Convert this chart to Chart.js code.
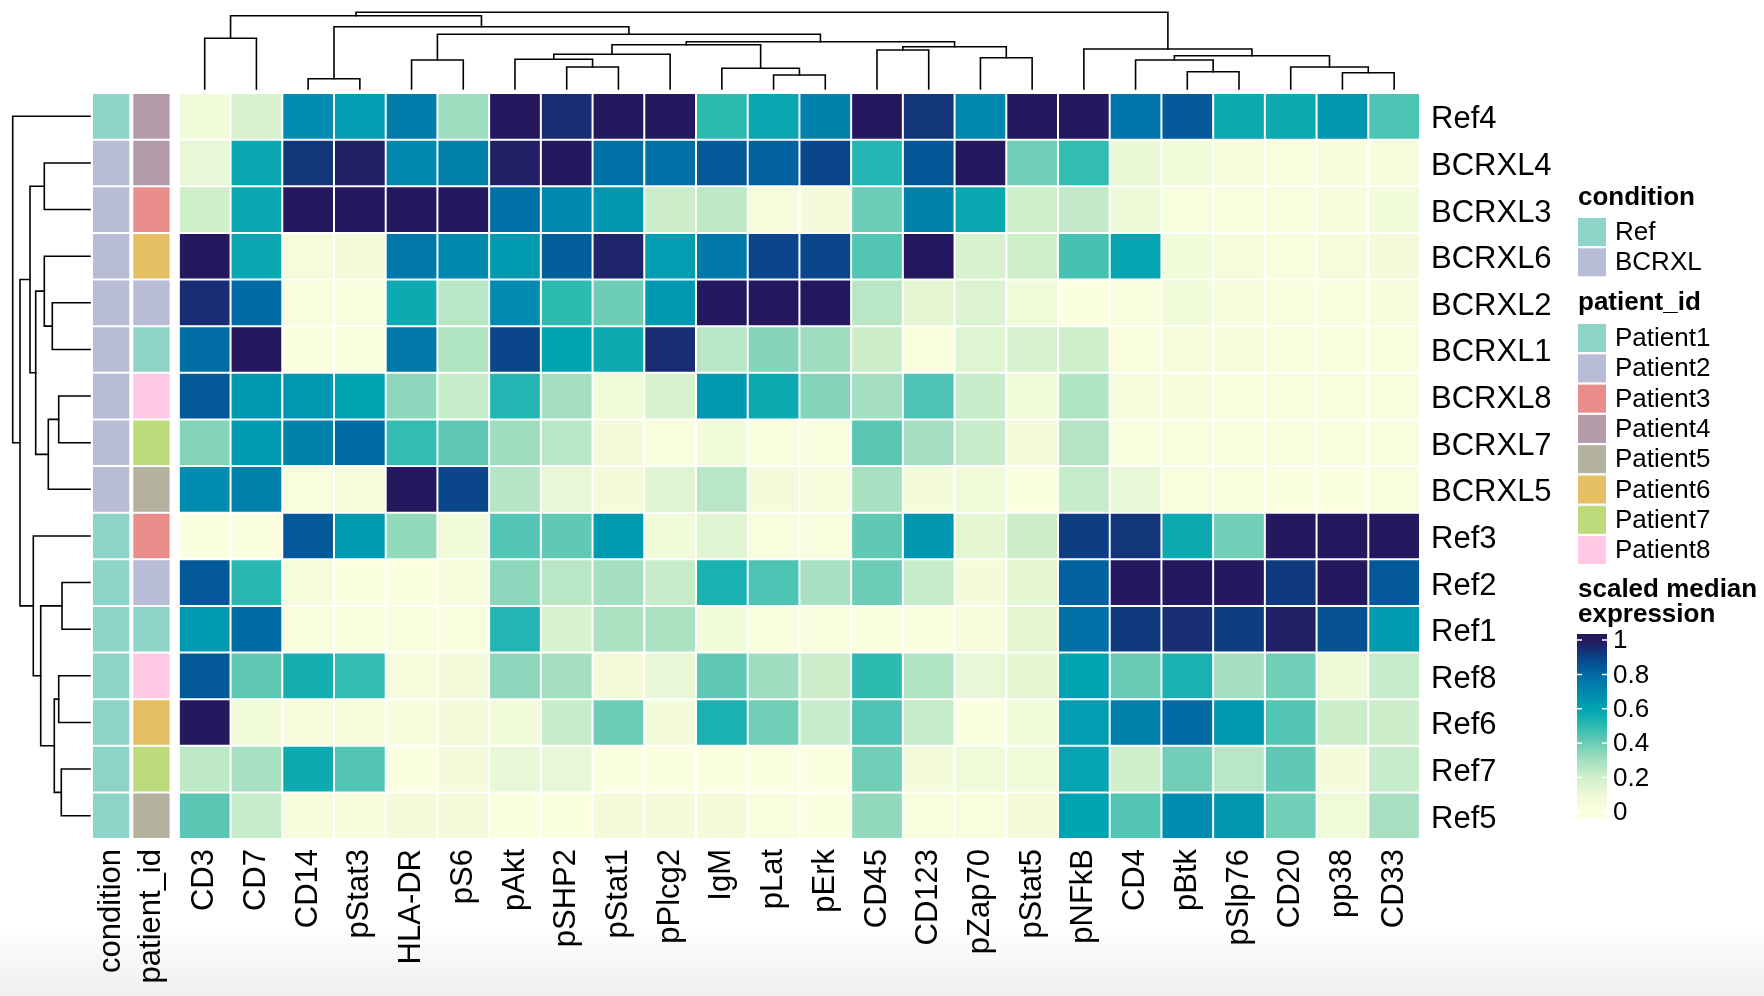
<!DOCTYPE html>
<html><head><meta charset="utf-8">
<script src="https://cdn.jsdelivr.net/npm/chart.js@4.4.1/dist/chart.umd.min.js"></script>
<style>
html,body{margin:0;padding:0;}
body{width:1764px;height:996px;overflow:hidden;background:linear-gradient(to bottom,#ffffff 0px,#ffffff 925px,#efefef 996px);}
#wrap{position:absolute;left:0;top:0;width:1764px;height:996px;}
</style></head><body><div id="wrap"><canvas id="c"></canvas></div>
<script>
// ---------------- data ----------------
const rowLabels = ['Ref4','BCRXL4','BCRXL3','BCRXL6','BCRXL2','BCRXL1','BCRXL8','BCRXL7','BCRXL5','Ref3','Ref2','Ref1','Ref8','Ref6','Ref7','Ref5'];
const colLabels = ['CD3','CD7','CD14','pStat3','HLA-DR','pS6','pAkt','pSHP2','pStat1','pPlcg2','IgM','pLat','pErk','CD45','CD123','pZap70','pStat5','pNFkB','CD4','pBtk','pSlp76','CD20','pp38','CD33'];
const annotLabels = ['condition','patient_id'];
const rowCondition = ['Ref','BCRXL','BCRXL','BCRXL','BCRXL','BCRXL','BCRXL','BCRXL','BCRXL','Ref','Ref','Ref','Ref','Ref','Ref','Ref'];
const rowPatient = ['Patient4','Patient4','Patient3','Patient6','Patient2','Patient1','Patient8','Patient7','Patient5','Patient3','Patient2','Patient1','Patient8','Patient6','Patient7','Patient5'];
const conditionLevels = ['Ref','BCRXL'];
const conditionColors = ['#8ed3c7','#b9bcd7'];
const patientLevels = ['Patient1','Patient2','Patient3','Patient4','Patient5','Patient6','Patient7','Patient8'];
const patientColors = ['#8ed3c7','#b9bcd7','#e98e8b','#b39ba9','#b4b19f','#e6be63','#bedb7c','#ffc9e3'];

// scaled median expression, one array per row (column order = colLabels)
const ref4   = [0.07,0.17,0.68,0.62,0.74,0.31,1.00,0.95,1.00,1.00,0.50,0.58,0.72,1.00,0.93,0.70,1.00,1.00,0.77,0.84,0.57,0.57,0.65,0.45];
const bcrxl4 = [0.12,0.58,0.93,0.98,0.70,0.73,0.98,1.00,0.78,0.78,0.84,0.82,0.89,0.52,0.85,1.00,0.39,0.49,0.11,0.08,0.05,0.02,0.04,0.04];
const bcrxl3 = [0.20,0.58,1.00,1.00,1.00,1.00,0.78,0.70,0.65,0.21,0.24,0.05,0.06,0.40,0.72,0.58,0.20,0.23,0.10,0.03,0.03,0.03,0.04,0.07];
const bcrxl6 = [1.00,0.58,0.05,0.06,0.75,0.70,0.63,0.83,0.97,0.62,0.75,0.89,0.89,0.44,1.00,0.17,0.20,0.46,0.59,0.08,0.05,0.03,0.05,0.06];
const bcrxl2 = [0.95,0.80,0.03,0.02,0.57,0.25,0.69,0.50,0.40,0.64,1.00,1.00,1.00,0.25,0.13,0.16,0.09,0.00,0.03,0.08,0.04,0.02,0.03,0.04];
const bcrxl1 = [0.79,1.00,0.00,0.03,0.75,0.27,0.89,0.60,0.57,0.95,0.25,0.36,0.31,0.21,0.00,0.15,0.18,0.20,0.02,0.05,0.04,0.02,0.03,0.03];
const bcrxl8 = [0.84,0.64,0.64,0.60,0.34,0.22,0.52,0.30,0.08,0.17,0.64,0.57,0.36,0.30,0.45,0.22,0.08,0.27,0.05,0.04,0.03,0.03,0.03,0.03];
const bcrxl7 = [0.36,0.63,0.72,0.80,0.49,0.42,0.31,0.25,0.06,0.02,0.07,0.03,0.03,0.43,0.30,0.22,0.06,0.26,0.02,0.02,0.02,0.02,0.02,0.02];
const bcrxl5 = [0.68,0.73,0.02,0.04,1.00,0.89,0.26,0.12,0.06,0.15,0.25,0.06,0.05,0.29,0.06,0.09,0.01,0.22,0.12,0.03,0.02,0.01,0.01,0.02];
const ref3   = [0.00,0.00,0.84,0.63,0.33,0.09,0.44,0.42,0.63,0.08,0.15,0.03,0.03,0.42,0.65,0.13,0.21,0.91,0.93,0.57,0.39,1.00,1.00,1.00];
const ref2   = [0.84,0.51,0.05,0.01,0.01,0.04,0.34,0.25,0.30,0.22,0.54,0.45,0.29,0.40,0.22,0.06,0.13,0.82,1.00,1.00,1.00,0.92,1.00,0.84];
const ref1   = [0.63,0.80,0.03,0.03,0.03,0.01,0.52,0.17,0.28,0.28,0.07,0.03,0.03,0.01,0.01,0.04,0.13,0.78,0.92,0.95,0.91,0.98,0.86,0.63];
const ref8   = [0.84,0.42,0.55,0.49,0.04,0.06,0.34,0.30,0.06,0.12,0.42,0.31,0.21,0.50,0.27,0.12,0.13,0.60,0.41,0.54,0.30,0.39,0.10,0.22];
const ref6   = [1.00,0.08,0.04,0.05,0.04,0.06,0.07,0.22,0.40,0.06,0.54,0.39,0.22,0.45,0.22,0.01,0.08,0.62,0.73,0.80,0.64,0.44,0.21,0.21];
const ref7   = [0.24,0.29,0.57,0.44,0.01,0.06,0.12,0.12,0.01,0.01,0.01,0.01,0.01,0.39,0.06,0.09,0.09,0.59,0.20,0.39,0.25,0.42,0.06,0.22];
const ref5   = [0.43,0.22,0.04,0.04,0.06,0.06,0.01,0.01,0.06,0.06,0.06,0.03,0.01,0.33,0.03,0.03,0.06,0.60,0.44,0.68,0.65,0.39,0.09,0.29];
const exprRows = [ref4,bcrxl4,bcrxl3,bcrxl6,bcrxl2,bcrxl1,bcrxl8,bcrxl7,bcrxl5,ref3,ref2,ref1,ref8,ref6,ref7,ref5];

// column dendrogram (hclust style: negative = leaf, positive = earlier merge)
const colMerge = [[-1,-2],[-3,-4],[-5,-6],[-8,-9],[-7,4],[5,-10],[-12,-13],[-11,7],[6,8],[-14,-15],[-16,-17],[10,11],[9,12],[3,13],[2,14],[1,15],[-20,-21],[-19,17],[-23,-24],[-22,19],[18,20],[-18,21],[16,22]];
const colHeight = [50.7,10.3,29.0,22.0,29.7,34.7,14.0,20.7,44.3,39.0,31.3,42.3,47.3,54.7,62.3,73.3,17.3,29.0,16.3,22.0,33.3,40.0,76.7];
// row dendrogram
const rowMerge = [[-2,-3],[-5,-6],[-4,2],[-7,-8],[4,-9],[3,5],[1,6],[-11,-12],[-13,-14],[-15,-16],[9,10],[8,11],[-10,12],[7,13],[-1,14]];
const rowHeight = [45.7,37.7,45.7,31.3,41.7,54.3,60.0,28.0,31.3,28.7,35.7,49.3,56.7,70.0,77.3];

// colour scale
const palStops  = [0,0.1,0.2,0.3,0.4,0.5,0.6,0.7,0.8,0.9,1];
const palColors = ['#fcfee0','#eef9d7','#cfefcb','#a3dfc0','#6dcdb6','#2cbab1','#00a3b1','#0088ae','#006aa5','#0b4286','#26185f'];
const legendTicks = [0,0.2,0.4,0.6,0.8,1];
const legendTickLabels = ['0','0.2','0.4','0.6','0.8','1'];

// ---------------- helpers / layout ----------------
const FONT = '"Liberation Sans", Arial, Helvetica, sans-serif';
function hex2rgb(h){return [1,3,5].map(i=>parseInt(h.substr(i,2),16));}
const palRgb = palColors.map(hex2rgb);
function colorFor(v){
  v=Math.max(0,Math.min(1,v));
  let i=0; while(i<palStops.length-2 && v>palStops[i+1]) i++;
  const t=(v-palStops[i])/(palStops[i+1]-palStops[i]);
  const a=palRgb[i], b=palRgb[i+1];
  return 'rgb('+a.map((c,k)=>Math.round(c+(b[k]-c)*t)).join(',')+')';
}
const AW = 0.78;            // annotation column width (x units)
const MK0 = 1.70;           // first marker column start
const X_MIN = 0.04, X_MAX = MK0 + colLabels.length;
const annotStart = [0, AW];
const tickPos = [annotStart[0]+AW/2, annotStart[1]+AW/2].concat(colLabels.map((_,j)=>MK0+j+0.5));
const tickText = annotLabels.concat(colLabels);

const datasets = [];
datasets.push({label:'condition', data: rowLabels.map(()=>[annotStart[0],annotStart[0]+AW]),
  backgroundColor: rowCondition.map(c=>conditionColors[conditionLevels.indexOf(c)]),
  borderWidth:{left:2,right:2,top:1,bottom:1}});
datasets.push({label:'patient_id', data: rowLabels.map(()=>[annotStart[1],annotStart[1]+AW]),
  backgroundColor: rowPatient.map(p=>patientColors[patientLevels.indexOf(p)]),
  borderWidth:{left:2,right:2,top:1,bottom:1}});
colLabels.forEach((m,j)=>{
  datasets.push({label:m, data: exprRows.map(()=>[MK0+j, MK0+j+1]),
    backgroundColor: exprRows.map(r=>colorFor(r[j])), borderWidth:1});
});

function drawTree(ctx, merge, heights, leafPos, hPix, vertical){
  const pos=[], hh=[];
  const get = r => r<0 ? {p:leafPos[-r-1], h:0} : {p:pos[r-1], h:hh[r-1]};
  merge.forEach((m,k)=>{
    const a=get(m[0]), b=get(m[1]), h=heights[k];
    pos.push((a.p+b.p)/2); hh.push(h);
    const H=hPix(h), Ha=hPix(a.h), Hb=hPix(b.h);
    ctx.beginPath();
    if(vertical){ctx.moveTo(a.p,Ha);ctx.lineTo(a.p,H);ctx.lineTo(b.p,H);ctx.lineTo(b.p,Hb);}
    else {ctx.moveTo(Ha,a.p);ctx.lineTo(H,a.p);ctx.lineTo(H,b.p);ctx.lineTo(Hb,b.p);}
    ctx.stroke();
  });
}

function drawLegend(ctx){
  const LX=1578, SQ=28, PITCH=30.3, TX=1615;
  ctx.save();
  ctx.fillStyle='#000'; ctx.textAlign='left'; ctx.textBaseline='alphabetic';
  ctx.font='bold 26px '+FONT;
  ctx.fillText('condition', LX, 205);
  conditionLevels.forEach((l,i)=>{
    const y=218+i*PITCH;
    ctx.fillStyle=conditionColors[i]; ctx.fillRect(LX,y,SQ,SQ);
    ctx.fillStyle='#000'; ctx.font='26px '+FONT; ctx.textBaseline='middle';
    ctx.fillText(l, TX, y+SQ/2+1);
  });
  ctx.textBaseline='alphabetic'; ctx.font='bold 26px '+FONT;
  ctx.fillText('patient_id', LX, 310);
  patientLevels.forEach((l,i)=>{
    const y=324+i*PITCH;
    ctx.fillStyle=patientColors[i]; ctx.fillRect(LX,y,SQ,SQ);
    ctx.fillStyle='#000'; ctx.font='26px '+FONT; ctx.textBaseline='middle';
    ctx.fillText(l, TX, y+SQ/2+1);
  });
  ctx.textBaseline='alphabetic'; ctx.font='bold 26px '+FONT;
  ctx.fillText('scaled median', LX, 597);
  ctx.fillText('expression', LX, 622);
  // colour bar
  const y0=812, y1=640, top=634, bot=818, bw=30;
  const g=ctx.createLinearGradient(0,y0,0,y1);
  palStops.forEach((s,i)=>g.addColorStop(s,palColors[i]));
  ctx.fillStyle=g; ctx.fillRect(LX-1,top,bw,bot-top);
  ctx.strokeStyle='#fff'; ctx.lineWidth=1.5;
  ctx.fillStyle='#000'; ctx.font='26px '+FONT; ctx.textBaseline='middle';
  legendTicks.forEach((v,i)=>{
    const y=y0+(y1-y0)*v;
    ctx.beginPath(); ctx.moveTo(LX-1,y); ctx.lineTo(LX+4,y); ctx.moveTo(LX+bw-6,y); ctx.lineTo(LX+bw-1,y); ctx.stroke();
    ctx.fillText(legendTickLabels[i], 1613, y+1);
  });
  ctx.restore();
}

const dendroPlugin = {
  id:'dendro',
  afterDraw(chart){
    const ctx=chart.ctx, xs=chart.scales.x, ys=chart.scales.y, ca=chart.chartArea;
    ctx.save();
    ctx.strokeStyle='#000'; ctx.lineWidth=1.6; ctx.lineCap='square';
    const colPix = colLabels.map((_,j)=>xs.getPixelForValue(MK0+j+0.5));
    const cB=ca.top-4, cT=12.3, cMax=Math.max(...colHeight);
    drawTree(ctx, colMerge, colHeight, colPix, h=>cB-h/cMax*(cB-cT), true);
    const rowPix = rowLabels.map((_,i)=>ys.getPixelForValue(i));
    const rR=ca.left-3, rL=12.7, rMax=Math.max(...rowHeight);
    drawTree(ctx, rowMerge, rowHeight, rowPix, h=>rR-h/rMax*(rR-rL), false);
    ctx.restore();
    drawLegend(ctx);
  }
};

Chart.defaults.font.family = FONT;
new Chart(document.getElementById('c'), {
  type:'bar',
  data:{labels:rowLabels, datasets},
  plugins:[dendroPlugin],
  options:{
    indexAxis:'y', responsive:true, maintainAspectRatio:false, animation:false,
    layout:{padding:{left:93, top:93, right:0, bottom:0}},
    plugins:{legend:{display:false}, tooltip:{enabled:false}},
    datasets:{bar:{grouped:false, barPercentage:1, categoryPercentage:1, borderSkipped:false, borderColor:'#ffffff', inflateAmount:0}},
    scales:{
      x:{type:'linear', position:'bottom', min:X_MIN, max:X_MAX,
        grid:{display:false, drawTicks:false}, border:{display:false},
        afterBuildTicks:s=>{s.ticks=tickPos.map(v=>({value:v}));},
        afterFit:s=>{s.height=157;},
        ticks:{autoSkip:false, minRotation:90, maxRotation:90, padding:10, color:'#000', font:{size:31}, callback:(v,i)=>tickText[i]}},
      y:{type:'category', position:'right', offset:true,
        grid:{display:false, drawTicks:false}, border:{display:false},
        afterFit:s=>{s.width=344;},
        ticks:{padding:11, labelOffset:3.5, color:'#000', font:{size:31}}}
    }
  }
});
</script></body></html>
